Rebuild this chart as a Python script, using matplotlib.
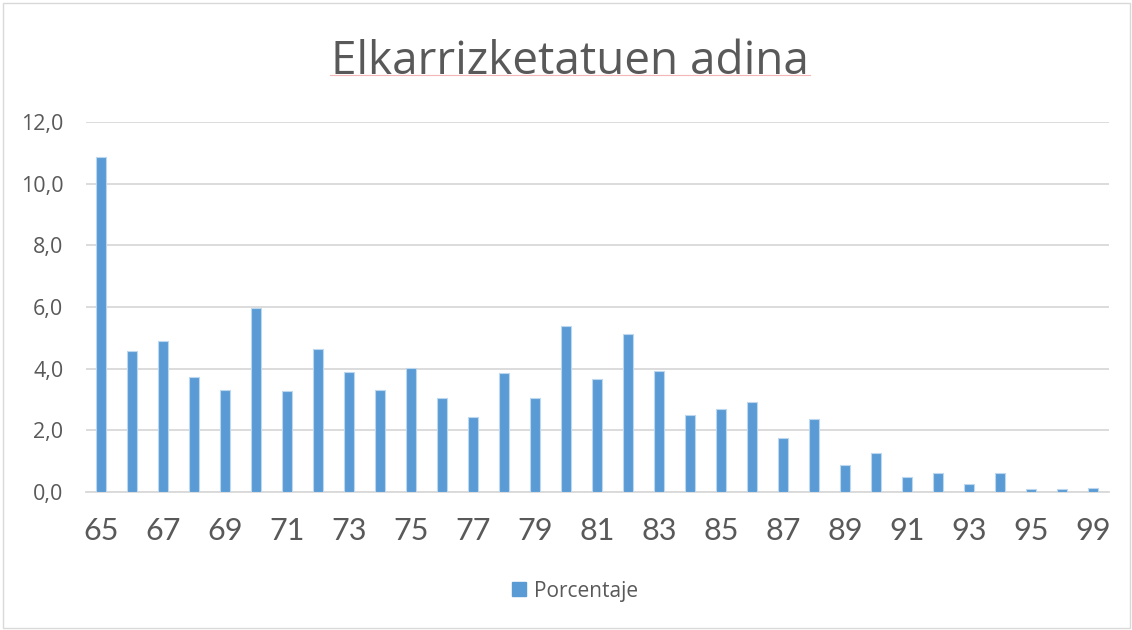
import matplotlib
matplotlib.use("Agg")
import matplotlib.pyplot as plt
from matplotlib.patches import Rectangle, Patch
from matplotlib.lines import Line2D
from matplotlib.ticker import FuncFormatter

ages = ["65", "66", "67", "68", "69", "70", "71", "72", "73", "74", "75", "76",
        "77", "78", "79", "80", "81", "82", "83", "84", "85", "86", "87", "88",
        "89", "90", "91", "92", "93", "94", "95", "97", "99"]
porcentaje = [10.88, 4.58, 4.91, 3.74, 3.32, 5.98, 3.29, 4.64, 3.90, 3.32, 4.03, 3.04,
              2.44, 3.87, 3.06, 5.38, 3.65, 5.12, 3.94, 2.50, 2.70, 2.91, 1.76, 2.37,
              0.89, 1.27, 0.50, 0.62, 0.25, 0.61, 0.11, 0.11, 0.12]
yticks = [0, 2, 4, 6, 8, 10, 12]

plt.rcParams['font.family'] = ['Open Sans', 'DejaVu Sans']
W, H = 1132, 630
fig = plt.figure(figsize=(W / 100, H / 100), dpi=100)
fig.patch.set_facecolor('white')
fig.add_artist(Rectangle((2.5 / W, 2.5 / H), (W - 5) / W, (H - 5) / H,
                         transform=fig.transFigure, fill=False,
                         edgecolor='#D9D9D9', linewidth=1))

ax = fig.add_axes([85.5 / W, (H - 492) / H, (1108.5 - 85.5) / W, (492 - 122) / H])
x = list(range(len(ages)))
ax.bar(x, porcentaje, width=0.33, color='#5B9BD5', edgecolor='#BDD7EE',
       linewidth=0.8, zorder=3, label='Porcentaje')
ax.set_xlim(-0.5, len(ages) - 0.5)
ax.set_ylim(0, 12)
ax.set_yticks(yticks)
ax.yaxis.set_major_formatter(FuncFormatter(lambda v, p: f"{v:.1f}".replace('.', ',')))
ax.set_xticks(x[::2])
ax.set_xticklabels(ages[::2])
ax.grid(axis='y', color='#D9D9D9', linewidth=1.3, zorder=0)
ax.set_axisbelow(True)
for s in ['top', 'right', 'left']:
    ax.spines[s].set_visible(False)
ax.spines['bottom'].set_color('#D9D9D9')
ax.spines['bottom'].set_linewidth(1.3)
ax.tick_params(axis='both', length=0)
ax.tick_params(axis='y', labelsize=15.5, labelcolor='#595959', pad=16)
ax.tick_params(axis='x', labelsize=22, labelcolor='#595959', pad=18)
for lab in ax.get_xticklabels():
    lab.set_fontfamily(['Lato', 'DejaVu Sans'])

fig.text(570 / W, (H - 74) / H, 'Elkarrizketatuen adina', ha='center', va='baseline',
         fontsize=33, color='#595959')
fig.add_artist(Line2D([330 / W, 810 / W], [(H - 74.5) / H] * 2, transform=fig.transFigure,
                      color='#F4B6B6', linewidth=0.8))

fig.legend(handles=[Patch(facecolor='#5B9BD5', edgecolor='#5B9BD5', label='Porcentaje')],
           loc='center', bbox_to_anchor=(575 / W, (H - 591) / H), frameon=False,
           fontsize=15, labelcolor='#595959', handlelength=0.68, handleheight=0.68,
           handletextpad=0.4)

fig.savefig('out.png', dpi=100, facecolor='white')
